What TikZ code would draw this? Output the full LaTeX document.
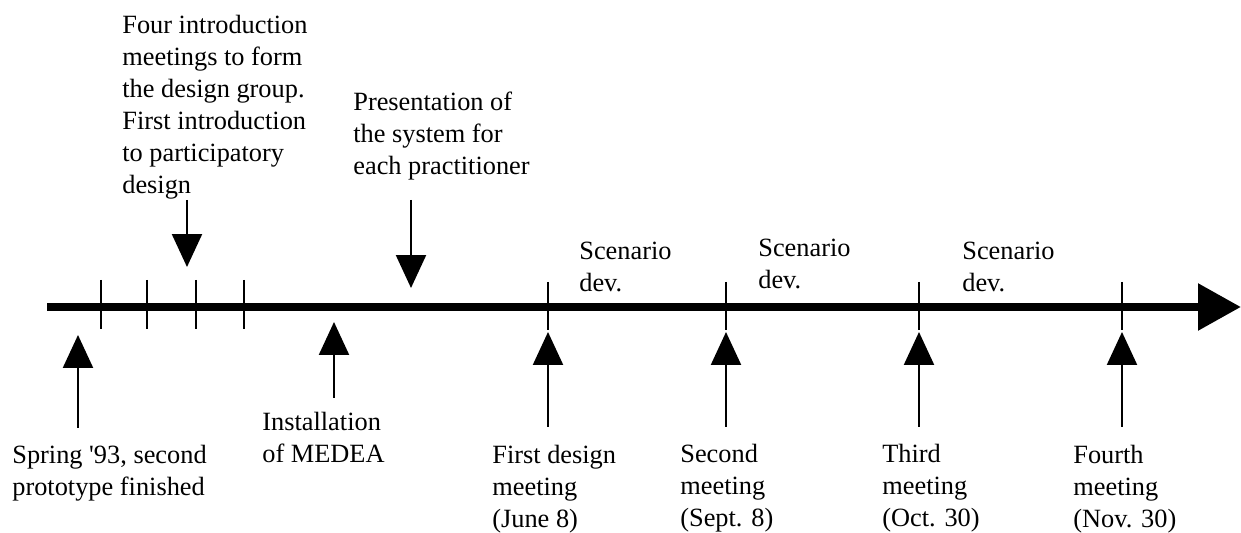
\documentclass[tikz,border=0pt]{standalone}
\usepackage{fontspec}
\setmainfont{Liberation Serif}
\usetikzlibrary{arrows.meta}

\begin{document}
\begin{tikzpicture}[x=0.02cm,y=-0.02cm,
  note/.style={anchor=north west,inner sep=0pt,align=left,font=\fontsize{15}{18.2}\selectfont},
  pointer/.style={line width=1.3pt,-{Triangle[width=0.6cm,length=0.66cm]}},
  tick/.style={line width=1.1pt}]
  \useasboundingbox (0,0) rectangle (1241,533);
  \coordinate (start) at (47,307);
  \coordinate (end) at (1241,307);
  \draw[line width=5pt,-{Triangle[width=0.9cm,length=0.86cm]}] (start) -- (end);
  \foreach \x in {101,147,196,244}
    \draw[tick] (\x,280) -- (\x,329);
  \foreach \x in {548,726,919,1122}
    \draw[tick] (\x,282) -- (\x,330);

  \node[note] (intro) at (122,15) {Four introduction\\meetings to form\\the design group.\\First introduction\\to participatory\\design};
  \node[note] (present) at (353,92) {Presentation of\\the system for\\each practitioner};
  \node[note] (scen1) at (579,242) {Scenario\\dev.};
  \node[note] (scen2) at (758,239) {Scenario\\dev.};
  \node[note] (scen3) at (962,242) {Scenario\\dev.};
  \node[note] (spring) at (12,445) {Spring \textquotesingle93, second\\prototype finished};
  \node[note] (install) at (262,412) {Installation\\of MEDEA};
  \node[note] (first) at (492,445) {First design\\meeting\\(June 8)};
  \node[note] (second) at (680,444) {Second\\meeting\\(Sept. 8)};
  \node[note] (third) at (882,444) {Third\\meeting\\(Oct. 30)};
  \node[note] (fourth) at (1073,445) {Fourth\\meeting\\(Nov. 30)};

  \coordinate (intro-a) at (187,200);  \coordinate (intro-b) at (187,267);
  \coordinate (present-a) at (411,200); \coordinate (present-b) at (411,288);
  \coordinate (spring-a) at (78,428);  \coordinate (spring-b) at (78,335);
  \coordinate (install-a) at (334,398); \coordinate (install-b) at (334,322);
  \coordinate (first-a) at (548,427);  \coordinate (first-b) at (548,332);
  \coordinate (second-a) at (726,427); \coordinate (second-b) at (726,332);
  \coordinate (third-a) at (919,427);  \coordinate (third-b) at (919,332);
  \coordinate (fourth-a) at (1122,427); \coordinate (fourth-b) at (1122,332);
  \foreach \e in {intro,present,spring,install,first,second,third,fourth}
    \draw[pointer] (\e-a) -- (\e-b);
\end{tikzpicture}
\end{document}
